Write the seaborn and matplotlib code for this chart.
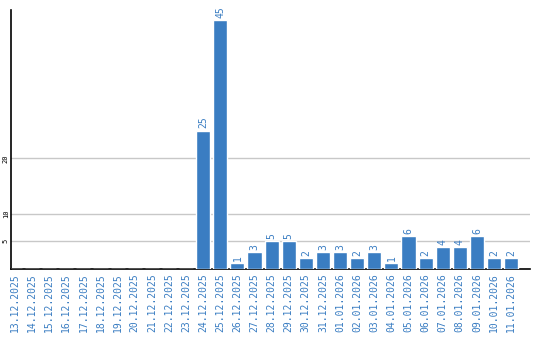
import matplotlib
matplotlib.use("Agg")
import matplotlib.pyplot as plt
import seaborn as sns
import pandas as pd

dates = ["13.12.2025", "14.12.2025", "15.12.2025", "16.12.2025", "17.12.2025",
         "18.12.2025", "19.12.2025", "20.12.2025", "21.12.2025", "22.12.2025",
         "23.12.2025", "24.12.2025", "25.12.2025", "26.12.2025", "27.12.2025",
         "28.12.2025", "29.12.2025", "30.12.2025", "31.12.2025", "01.01.2026",
         "02.01.2026", "03.01.2026", "04.01.2026", "05.01.2026", "06.01.2026",
         "07.01.2026", "08.01.2026", "09.01.2026", "10.01.2026", "11.01.2026"]
values = [0, 0, 0, 0, 0, 0, 0, 0, 0, 0, 0, 25, 45, 1, 3, 5, 5, 2, 3, 3,
          2, 3, 1, 6, 2, 4, 4, 6, 2, 2]
yticks = [5, 10, 20]

blue = "#3a7dc2"
sns.set_style("white")
plt.rcParams["font.family"] = ["DejaVu Sans Mono", "DejaVu Sans"]

df = pd.DataFrame({"date": dates, "value": values})

fig = plt.figure(figsize=(5.4, 3.4), dpi=100)
ax = fig.add_axes([11 / 540, 71 / 340, (530 - 11) / 540, (269 - 10) / 340])
sns.barplot(data=df, x="date", y="value", color=blue, saturation=1,
            width=0.82, ax=ax, zorder=3)

ax.set_xlim(-0.23, 30.1)
ax.set_ylim(0, 46.8)
ax.set_yticks(yticks)
ax.set_yticklabels([str(t) for t in yticks], rotation=90, fontsize=5,
                   color="black", va="center")
ax.yaxis.grid(True, color="#c8c8c8", linewidth=1, zorder=0)
ax.set_axisbelow(True)
ax.tick_params(axis="x", length=0, pad=3)
ax.tick_params(axis="y", length=0, pad=1.5)
ax.set_xticks(range(len(dates)))
ax.set_xticklabels(dates, rotation=90, fontsize=7, color=blue)
ax.set_xlabel("")
ax.set_ylabel("")

for s in ["top", "right"]:
    ax.spines[s].set_visible(False)
for s in ["left", "bottom"]:
    ax.spines[s].set_color("black")
    ax.spines[s].set_linewidth(1.2)

for i, v in enumerate(values):
    if v > 0:
        ax.text(i, v + 0.4, str(v), rotation=90, ha="center", va="bottom",
                fontsize=7, color=blue)

fig.savefig("out.png", dpi=100)
